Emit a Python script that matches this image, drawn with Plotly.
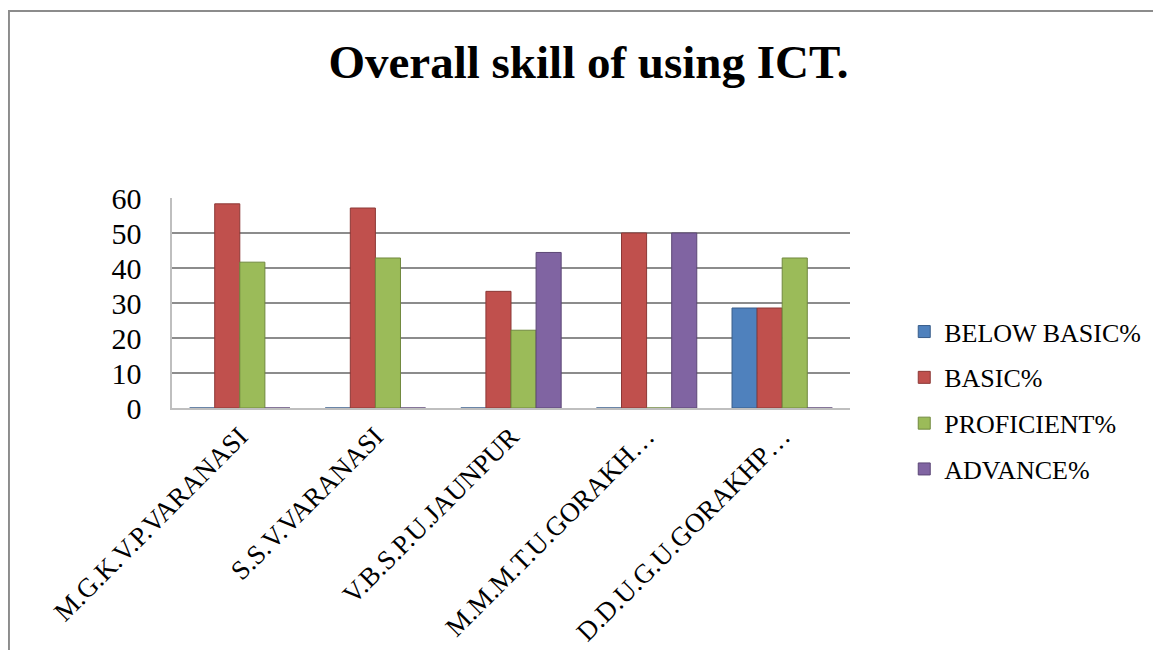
import plotly.graph_objects as go

categories = ["M.G.K.V.P.VARANASI", "S.S.V.VARANASI", "V.B.S.P.U.JAUNPUR",
              "M.M.M.T.U.GORAKH…", "D.D.U.G.U.GORAKHP…"]
below_basic = [0, 0, 0, 0, 28.57]
basic = [58.33, 57.14, 33.33, 50, 28.57]
proficient = [41.67, 42.86, 22.22, 0, 42.86]
advance = [0, 0, 44.44, 50, 0]

series = [
    ("BELOW BASIC%", below_basic, "#4F81BD", "#385D8A"),
    ("BASIC%", basic, "#C0504D", "#8C3836"),
    ("PROFICIENT%", proficient, "#9BBB59", "#71893F"),
    ("ADVANCE%", advance, "#8064A2", "#5C4776"),
]

font_family = "Liberation Serif, Times New Roman, serif"

fig = go.Figure()
for name, vals, col, edge in series:
    fig.add_trace(go.Bar(
        x=categories, y=vals, name=name, legendgroup=name,
        marker=dict(color=col, line=dict(color=edge, width=1)),
    ))

fig.update_layout(
    width=1161, height=650,
    paper_bgcolor="white", plot_bgcolor="white",
    barmode="group", bargap=0.26, bargroupgap=0,
    title=dict(text="<b>Overall skill of using ICT.</b>", x=0.5, xanchor="center",
               xref="container", yref="container",
               y=0.917, yanchor="middle",
               font=dict(family=font_family, size=47, color="black")),
    font=dict(family=font_family, color="black"),
    margin=dict(l=164, r=319, t=190, b=250, autoexpand=False),
    legend=dict(x=1.08, y=0.035, xanchor="left", yanchor="middle",
                font=dict(family=font_family, size=26, color="black"),
                traceorder="grouped", tracegroupgap=9),
    xaxis=dict(tickangle=-45, tickfont=dict(family=font_family, size=27),
               showline=True, linecolor="#BFBFBF", linewidth=2, ticks="",
               automargin=False),
    yaxis=dict(range=[0, 60], dtick=10, tickfont=dict(family=font_family, size=30),
               showgrid=True, gridcolor="#8C8C8C", gridwidth=1.5,
               showline=True, linecolor="#BFBFBF", linewidth=2,
               zeroline=False, ticks="", ticksuffix="   ", automargin=False),
    shapes=[dict(type="rect", xref="paper", yref="paper",
                 x0=-0.2405, x1=1.6, y0=-1.3, y1=1.89,
                 line=dict(color="#8C8C8C", width=2), fillcolor="rgba(0,0,0,0)",
                 layer="below")],
)

fig.write_html("out.html")
